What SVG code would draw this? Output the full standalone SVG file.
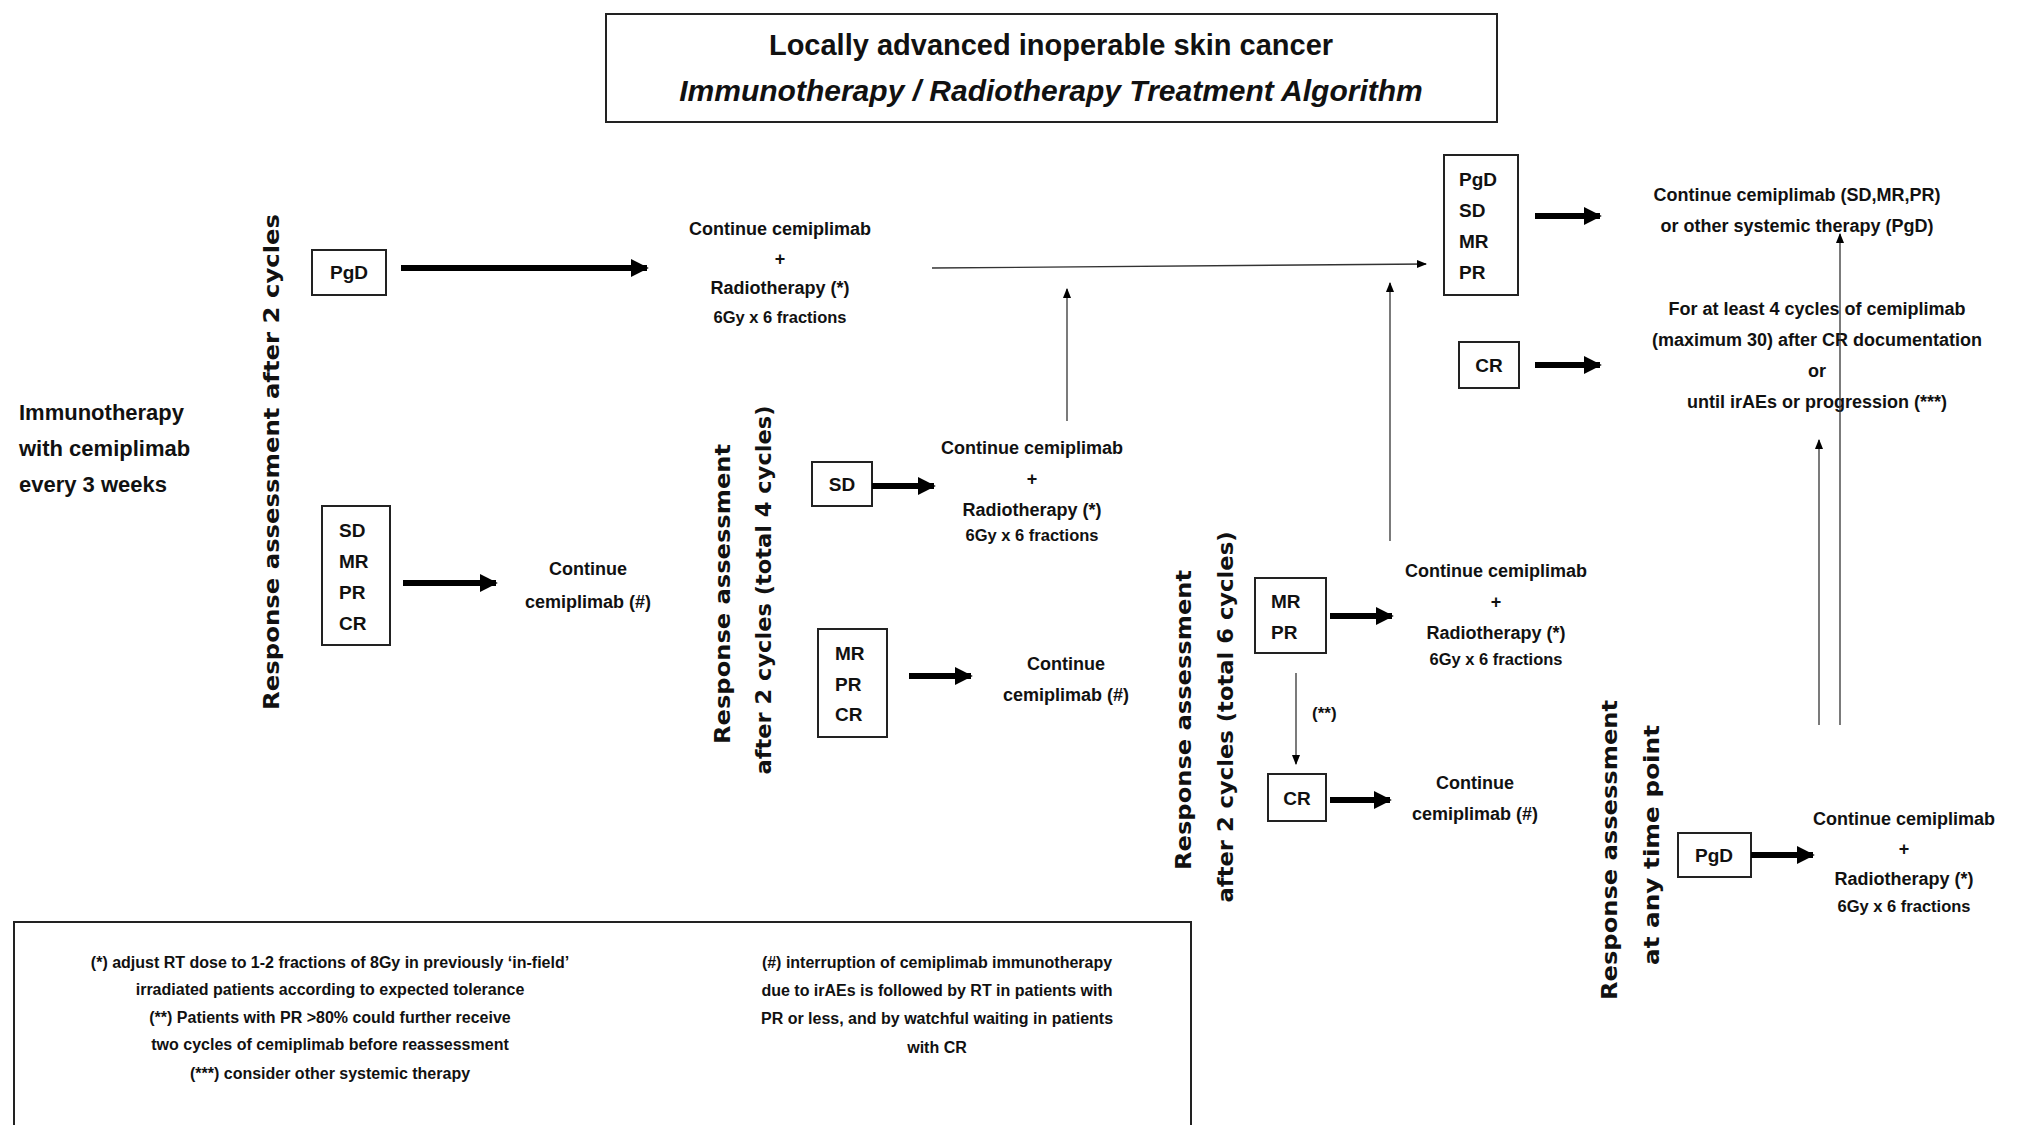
<svg xmlns="http://www.w3.org/2000/svg" width="2030" height="1125" viewBox="0 0 2030 1125">
<style>
text{font-family:"Liberation Sans",Arial,sans-serif;font-weight:bold;fill:#111}
.t{font-size:18px;text-anchor:middle}
.s{font-size:16.5px;text-anchor:middle}
.b{font-size:19px;text-anchor:middle}
.l{font-size:19px;text-anchor:start}
.f{font-size:16px;text-anchor:middle}
.v{font-family:"DejaVu Sans",Verdana,sans-serif;font-size:21px;text-anchor:middle;dominant-baseline:central}
rect{fill:#fff;stroke:#222;stroke-width:2}
.thick{stroke:#000;stroke-width:6;fill:none}
.thin{stroke:#333;stroke-width:1.3;fill:none}
</style>
<defs>
<marker id="ah" viewBox="0 0 10 10" refX="9" refY="5" markerWidth="3" markerHeight="3.2" orient="auto" markerUnits="strokeWidth"><path d="M0,0L10,5L0,10z" fill="#000"/></marker>
<marker id="ahs" viewBox="0 0 10 10" refX="9" refY="5" markerWidth="8" markerHeight="8" orient="auto" markerUnits="strokeWidth"><path d="M0,1L10,5L0,9z" fill="#000"/></marker>
</defs>
<rect width="2030" height="1125" style="fill:#fff;stroke:none"/>
<g id="title"><rect x="606" y="14" width="891" height="108"/>
<text x="1051" y="55" style="font-size:29px;text-anchor:middle">Locally advanced inoperable skin cancer</text>
<text x="1051" y="101" style="font-size:30px;text-anchor:middle;font-style:italic">Immunotherapy / Radiotherapy Treatment Algorithm</text></g>
<g id="start"><text x="19" y="420" style="font-size:22px">Immunotherapy</text><text x="19" y="456" style="font-size:22px">with cemiplimab</text><text x="19" y="492" style="font-size:22px">every 3 weeks</text></g>
<g id="v1"><text class="v" transform="translate(272,462) rotate(-90)" textLength="496" lengthAdjust="spacingAndGlyphs">Response assessment after 2 cycles</text></g>
<g id="v2"><text class="v" transform="translate(723,594) rotate(-90)" textLength="300" lengthAdjust="spacingAndGlyphs">Response assessment</text><text class="v" transform="translate(764,590) rotate(-90)" textLength="369" lengthAdjust="spacingAndGlyphs">after 2 cycles (total 4 cycles)</text></g>
<g id="v3"><text class="v" transform="translate(1184,720) rotate(-90)" textLength="300" lengthAdjust="spacingAndGlyphs">Response assessment</text><text class="v" transform="translate(1226,717) rotate(-90)" textLength="371" lengthAdjust="spacingAndGlyphs">after 2 cycles (total 6 cycles)</text></g>
<g id="v4"><text class="v" transform="translate(1610,850) rotate(-90)" textLength="300" lengthAdjust="spacingAndGlyphs">Response assessment</text><text class="v" transform="translate(1652,845) rotate(-90)" textLength="240" lengthAdjust="spacingAndGlyphs">at any time point</text></g>
<g id="n-pgd1"><rect x="312" y="250" width="74" height="45"/><text class="b" x="349" y="279">PgD</text></g>
<g id="n-rt1"><text class="t" x="780" y="235">Continue cemiplimab</text><text class="t" x="780" y="265">+</text><text class="t" x="780" y="294">Radiotherapy (*)</text><text class="s" x="780" y="323">6Gy x 6 fractions</text></g>
<g id="n-all"><rect x="1444" y="155" width="74" height="140"/><text class="l" x="1459" y="186">PgD</text><text class="l" x="1459" y="217">SD</text><text class="l" x="1459" y="248">MR</text><text class="l" x="1459" y="279">PR</text></g>
<g id="n-cont-end"><text class="t" x="1797" y="201">Continue cemiplimab (SD,MR,PR)</text><text class="t" x="1797" y="232">or other systemic therapy (PgD)</text></g>
<g id="n-cr-end"><rect x="1459" y="342" width="60" height="46"/><text class="b" x="1489" y="372">CR</text></g>
<g id="n-atleast"><text class="t" x="1817" y="315">For at least  4 cycles of cemiplimab</text><text class="t" x="1817" y="346">(maximum 30) after CR documentation</text><text class="t" x="1817" y="377">or</text><text class="t" x="1817" y="408">until irAEs or progression (***)</text></g>
<g id="n-sdmr"><rect x="322" y="506" width="68" height="139"/><text class="l" x="339" y="537">SD</text><text class="l" x="339" y="568">MR</text><text class="l" x="339" y="599">PR</text><text class="l" x="339" y="630">CR</text></g>
<g id="n-cont1"><text class="t" x="588" y="575">Continue</text><text class="t" x="588" y="608">cemiplimab (#)</text></g>
<g id="n-sd2"><rect x="812" y="462" width="60" height="44"/><text class="b" x="842" y="491">SD</text></g>
<g id="n-rt2"><text class="t" x="1032" y="454">Continue cemiplimab</text><text class="t" x="1032" y="485">+</text><text class="t" x="1032" y="516">Radiotherapy (*)</text><text class="s" x="1032" y="541">6Gy x 6 fractions</text></g>
<g id="n-mrprcr"><rect x="818" y="629" width="69" height="108"/><text class="l" x="835" y="660">MR</text><text class="l" x="835" y="691">PR</text><text class="l" x="835" y="721">CR</text></g>
<g id="n-cont2"><text class="t" x="1066" y="670">Continue</text><text class="t" x="1066" y="701">cemiplimab (#)</text></g>
<g id="n-mrpr"><rect x="1255" y="578" width="71" height="75"/><text class="l" x="1271" y="608">MR</text><text class="l" x="1271" y="639">PR</text></g>
<g id="n-rt3"><text class="t" x="1496" y="577">Continue cemiplimab</text><text class="t" x="1496" y="608">+</text><text class="t" x="1496" y="639">Radiotherapy (*)</text><text class="s" x="1496" y="665">6Gy x 6 fractions</text></g>
<g id="n-cr3"><rect x="1268" y="774" width="58" height="47"/><text class="b" x="1297" y="805">CR</text></g>
<g id="n-cont3"><text class="t" x="1475" y="789">Continue</text><text class="t" x="1475" y="820">cemiplimab (#)</text></g>
<g id="n-pgd4"><rect x="1678" y="833" width="73" height="44"/><text class="b" x="1714" y="862">PgD</text></g>
<g id="n-rt4"><text class="t" x="1904" y="825">Continue cemiplimab</text><text class="t" x="1904" y="855">+</text><text class="t" x="1904" y="885">Radiotherapy (*)</text><text class="s" x="1904" y="912">6Gy x 6 fractions</text></g>
<g id="connectors">
<line class="thick" x1="401" y1="268" x2="647" y2="268" marker-end="url(#ah)"/>
<line class="thin" x1="932" y1="268" x2="1426" y2="264" marker-end="url(#ahs)"/>
<line class="thick" x1="1535" y1="216" x2="1600" y2="216" marker-end="url(#ah)"/>
<line class="thick" x1="1535" y1="365" x2="1600" y2="365" marker-end="url(#ah)"/>
<line class="thin" x1="1840" y1="725" x2="1840" y2="234" marker-end="url(#ahs)"/>
<line class="thin" x1="1819" y1="725" x2="1819" y2="440" marker-end="url(#ahs)"/>
<line class="thick" x1="403" y1="583" x2="496" y2="583" marker-end="url(#ah)"/>
<line class="thick" x1="872" y1="486" x2="934" y2="486" marker-end="url(#ah)"/>
<line class="thin" x1="1067" y1="421" x2="1067" y2="289" marker-end="url(#ahs)"/>
<line class="thick" x1="909" y1="676" x2="971" y2="676" marker-end="url(#ah)"/>
<line class="thick" x1="1330" y1="616" x2="1392" y2="616" marker-end="url(#ah)"/>
<line class="thin" x1="1390" y1="541" x2="1390" y2="283" marker-end="url(#ahs)"/>
<line class="thin" x1="1296" y1="673" x2="1296" y2="764" marker-end="url(#ahs)"/>
<line class="thick" x1="1330" y1="800" x2="1390" y2="800" marker-end="url(#ah)"/>
<line class="thick" x1="1751" y1="855" x2="1813" y2="855" marker-end="url(#ah)"/>
</g>
<text x="1312" y="719" style="font-size:17px">(**)</text>
<g id="footnotes"><path d="M14,1125V922H1191V1125" fill="none" stroke="#222" stroke-width="2"/>
<text class="f" x="330" y="968">(*) adjust RT dose to 1-2 fractions of 8Gy in previously ‘in-field’</text>
<text class="f" x="330" y="995">irradiated patients according to expected tolerance</text>
<text class="f" x="330" y="1023">(**) Patients with PR &gt;80% could further receive</text>
<text class="f" x="330" y="1050">two cycles of cemiplimab before reassessment</text>
<text class="f" x="330" y="1079">(***) consider other systemic therapy</text>
<text class="f" x="937" y="968">(#) interruption of cemiplimab immunotherapy</text>
<text class="f" x="937" y="996">due to irAEs is followed by RT in patients with</text>
<text class="f" x="937" y="1024">PR or less, and by watchful waiting in patients</text>
<text class="f" x="937" y="1053">with CR</text></g>
</svg>
